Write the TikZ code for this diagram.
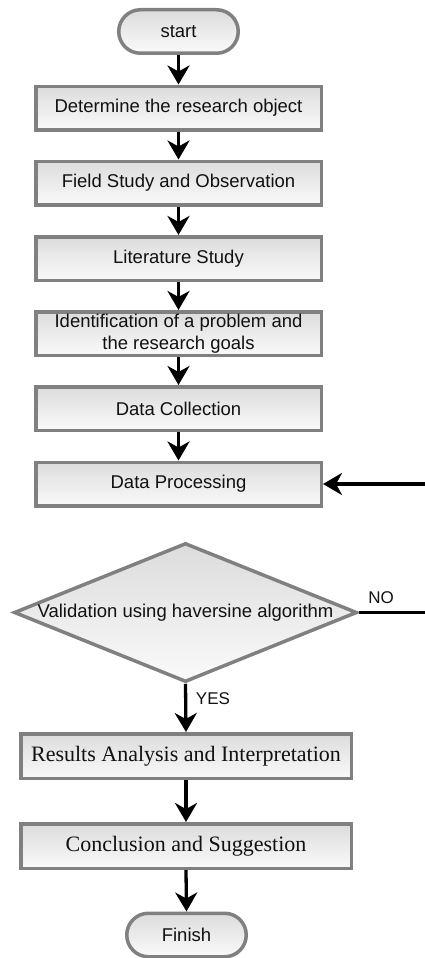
\documentclass[tikz,border=0pt]{standalone}
\usepackage{fontspec}
\setmainfont{Liberation Serif}
\setsansfont{Liberation Sans}
\usetikzlibrary{shapes.geometric,arrows.meta}
\definecolor{bordergray}{HTML}{808080}
\definecolor{shadetop}{HTML}{DCDCDC}
\definecolor{shadebot}{HTML}{FAFAFA}
\definecolor{txt}{HTML}{111111}
\begin{document}
\begin{tikzpicture}[x=1pt,y=-1pt,
  base/.style={draw=bordergray, line width=3.5pt, top color=shadetop, bottom color=shadebot, text=txt, inner sep=0pt},
  procbox/.style={base, rectangle, minimum width=285.5pt, minimum height=43.5pt, font=\sffamily\fontsize{18.5}{22}\selectfont, align=center},
  serifbox/.style={base, rectangle, minimum width=330.5pt, minimum height=44.5pt, font=\rmfamily\fontsize{22}{26}\selectfont},
  terminal/.style={base, rectangle, rounded corners=21.7pt, minimum width=119.5pt, minimum height=43.5pt, font=\sffamily\fontsize{18.5}{22}\selectfont},
  decision/.style={base, diamond, shape aspect=2.5, minimum width=343pt, minimum height=139pt, font=\sffamily\fontsize{18.5}{22}\selectfont},
  flow/.style={line width=3.3pt, -{Stealth[length=19pt,width=22pt,inset=6pt]}},
  lbl/.style={text=txt, font=\sffamily\fontsize{17}{20}\selectfont, inner sep=0pt}
]
\useasboundingbox (0,0) rectangle (425,958);

\node[terminal] (start) at (178.5,31.5) {start};
\node[procbox] (b1) at (178.5,108) {Determine the research object};
\node[procbox] (b2) at (178.5,183) {Field Study and Observation};
\node[procbox] (b3) at (178.5,258.5) {Literature Study};
\node[procbox] (b4) at (178.5,333.5) {Identification of a problem and\\the research goals};
\node[procbox] (b5) at (178.5,408.5) {Data Collection};
\node[procbox] (b6) at (178.5,484) {Data Processing};
\node[decision] (dia) at (185.5,612.5) {Validation using haversine algorithm};
\node[serifbox] (b7) at (186,756) {Results Analysis and Interpretation};
\node[serifbox] (b8) at (186,846) {Conclusion and Suggestion};
\node[terminal] (fin) at (186.5,935) {Finish};

\coordinate (loopin) at (425,484);
\coordinate (noout) at (425,612.5);

\draw[flow] (start) -- (b1);
\draw[flow] (b1) -- (b2);
\draw[flow] (b2) -- (b3);
\draw[flow] (b3) -- (b4);
\draw[flow] (b4) -- (b5);
\draw[flow] (b5) -- (b6);
\draw[flow] (loopin) -- (b6);
\draw[line width=3.3pt] (dia.east) -- (noout);
\draw[flow] (dia.south) -- (b7.north);
\draw[flow] (b7) -- (b8);
\draw[flow] (b8.south) -- (fin.north);

\node[lbl] (no) at (381,598) {NO};
\node[lbl] (yes) at (213,699) {YES};
\end{tikzpicture}
\end{document}
